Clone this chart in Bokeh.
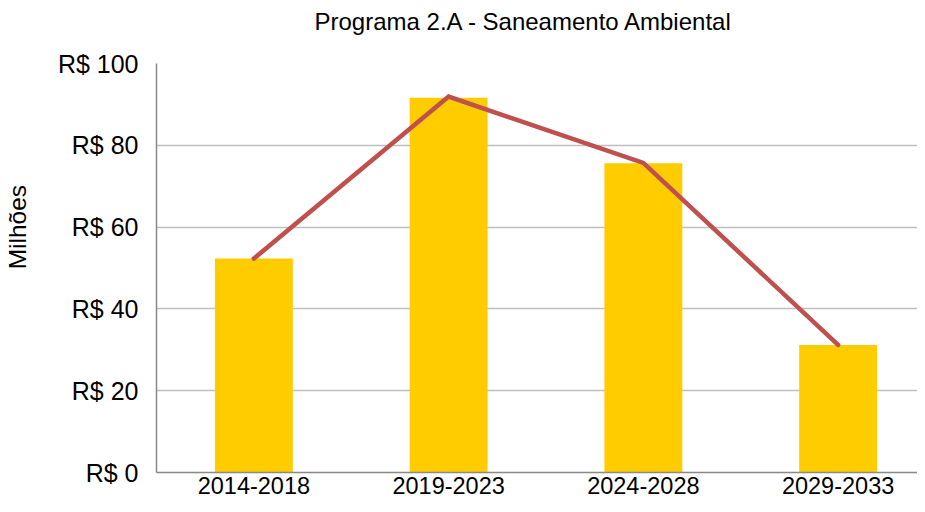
from bokeh.plotting import figure
from bokeh.models import ColumnDataSource, FixedTicker, Range1d, Title
from bokeh.embed import file_html
from bokeh.resources import INLINE

periods = ["2014-2018", "2019-2023", "2024-2028", "2029-2033"]
bar_values = [52.3, 91.6, 75.6, 31.2]
line_values = [52.3, 91.9, 75.7, 31.2]
y_ticks = [0, 20, 40, 60, 80, 100]
y_tick_labels = ["R$ 0", "R$ 20", "R$ 40", "R$ 60", "R$ 80", "R$ 100"]

xs = list(range(len(periods)))
src = ColumnDataSource(dict(x=xs, bar=bar_values, line=line_values))

FONT = "Liberation Sans"

p = figure(width=917, height=504, output_backend="svg", toolbar_location=None,
           x_range=Range1d(-0.5, -0.5 + 762 / 195.0), y_range=Range1d(0, 100),
           min_border_left=155, min_border_right=0, min_border_top=63,
           min_border_bottom=32, title="Programa 2.A - Saneamento Ambiental")

p.vbar(x="x", top="bar", width=0.4, source=src, color="#FFCC00", line_color=None)
p.line(x="x", y="line", source=src, line_color="#C0504D", line_width=4.5,
       line_cap="round", line_join="miter")

# spacer between title and plot frame (added before the title, so it sits next to the frame)
spacer = Title(text="\u00a0", text_font_size="1px", standoff=24)
p.add_layout(spacer, "above")

p.title.text_font = FONT
p.title.text_font_size = "24px"
p.title.text_font_style = "normal"
p.title.text_color = "#000000"
p.title.align = "left"
p.title.offset = 158
p.title.standoff = 4

p.outline_line_color = None
p.background_fill_color = "white"
p.border_fill_color = "white"

p.xgrid.grid_line_color = None
p.ygrid.grid_line_color = "#BFBFBF"
p.ygrid.grid_line_width = 1.3

p.yaxis.ticker = FixedTicker(ticks=y_ticks)
p.yaxis.major_label_overrides = {t: l for t, l in zip(y_ticks, y_tick_labels)}
p.xaxis.ticker = FixedTicker(ticks=xs)
p.xaxis.major_label_overrides = {i: l for i, l in zip(xs, periods)}

p.yaxis.axis_label = "\u00a0" * 12 + "Milhões"
p.yaxis.axis_label_text_font = FONT
p.yaxis.axis_label_text_font_size = "24.5px"
p.yaxis.axis_label_text_font_style = "normal"
p.yaxis.axis_label_text_color = "#000000"
p.yaxis.axis_label_standoff = 24

for ax in (p.xaxis, p.yaxis):
    ax.axis_line_color = "#898989"
    ax.axis_line_width = 1.5
    ax.major_tick_line_color = None
    ax.minor_tick_line_color = None
    ax.major_tick_out = 0
    ax.major_tick_in = 0
    ax.major_label_text_font = FONT
    ax.major_label_text_color = "#000000"

p.yaxis.major_label_text_font_size = "25px"
p.xaxis.major_label_text_font_size = "23.5px"
p.yaxis.major_label_standoff = 18
p.xaxis.major_label_standoff = 4

open("out.html", "w").write(file_html(p, INLINE))
